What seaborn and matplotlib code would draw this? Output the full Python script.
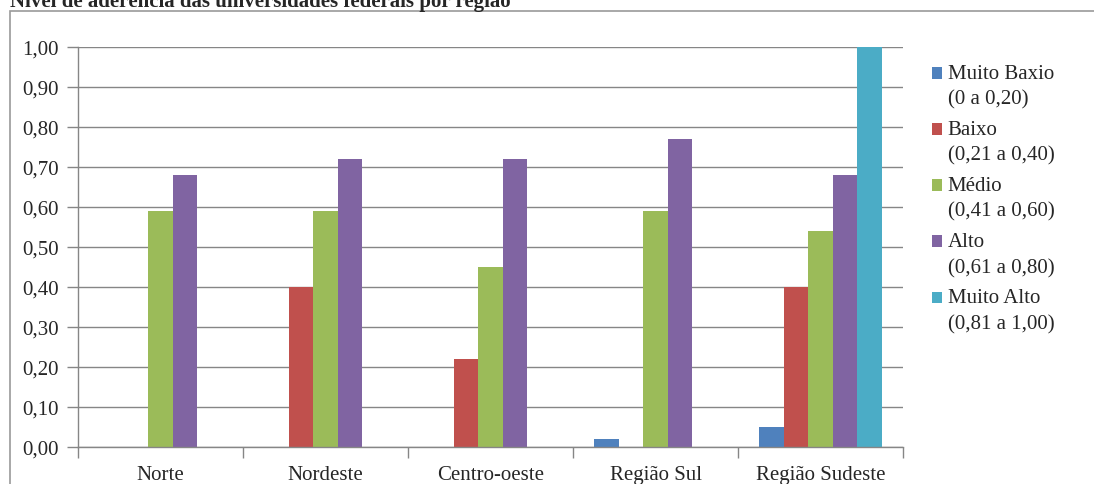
import matplotlib
matplotlib.use("Agg")
import matplotlib.pyplot as plt
from matplotlib.patches import Rectangle
from matplotlib.legend_handler import HandlerPatch
from matplotlib.ticker import FuncFormatter, FixedLocator
import pandas as pd
import seaborn as sns

regions = ["Norte", "Nordeste", "Centro-oeste", "Região Sul", "Região Sudeste"]
levels = [
    "Muito Baxio\n(0 a 0,20)",
    "Baixo\n(0,21 a 0,40)",
    "Médio\n(0,41 a 0,60)",
    "Alto\n(0,61 a 0,80)",
    "Muito Alto\n(0,81 a 1,00)",
]
muito_baixo = [0.00, 0.00, 0.00, 0.02, 0.05]
baixo = [0.00, 0.40, 0.22, 0.00, 0.40]
medio = [0.59, 0.59, 0.45, 0.59, 0.54]
alto = [0.68, 0.72, 0.72, 0.77, 0.68]
muito_alto = [0.00, 0.00, 0.00, 0.00, 1.00]
colors = ["#4F81BD", "#C0504D", "#9BBB59", "#8064A2", "#4BACC6"]

series = [muito_baixo, baixo, medio, alto, muito_alto]
rows = []
for level, values in zip(levels, series):
    for region, v in zip(regions, values):
        rows.append({"regiao": region, "nivel": level, "valor": v})
df = pd.DataFrame(rows)


class TopAlignedSquare(HandlerPatch):
    # put the legend square next to the first line of a two-line label
    def create_artists(self, legend, orig_handle, xdescent, ydescent, width, height,
                       fontsize, trans):
        p = Rectangle((-xdescent, -ydescent + 0.62 * fontsize), width, height)
        self.update_prop(p, orig_handle, legend)
        p.set_transform(trans)
        return [p]


sns.set_style("white")
plt.rcParams["font.family"] = ["Liberation Serif", "DejaVu Serif"]

fig = plt.figure(figsize=(10.94, 4.85), dpi=100)
ax = fig.add_axes([78 / 1094, 1 - 448 / 485, 825 / 1094, 400 / 485])

sns.barplot(
    data=df, x="regiao", y="valor", hue="nivel",
    order=regions, hue_order=levels, palette=colors,
    width=0.74, gap=0, saturation=1, linewidth=0, ax=ax, legend=True,
)

grid_color = "#868686"
ax.set_ylim(0, 1.0)
ax.set_xlim(-0.5, len(regions) - 0.5)
ax.set_yticks([i / 10 for i in range(11)])
ax.yaxis.set_major_formatter(FuncFormatter(lambda v, p: f"{v:.2f}".replace(".", ",")))
ax.yaxis.grid(True, color=grid_color, linewidth=1)
ax.set_axisbelow(True)
ax.set_xlabel("")
ax.set_ylabel("")
for side in ["top", "right"]:
    ax.spines[side].set_visible(False)
for side in ["left", "bottom"]:
    ax.spines[side].set_color(grid_color)
    ax.spines[side].set_linewidth(1)

ax.tick_params(axis="y", direction="out", length=8, color=grid_color, width=1,
               labelsize=15, pad=6, left=True)
ax.tick_params(axis="x", which="major", length=0, labelsize=15, pad=13)
ax.xaxis.set_minor_locator(FixedLocator([i - 0.5 for i in range(len(regions) + 1)]))
ax.tick_params(axis="x", which="minor", direction="out", length=8, color=grid_color, width=1,
               bottom=True)

handles, labels = ax.get_legend_handles_labels()
leg = ax.legend(
    handles, labels, loc="upper left", bbox_to_anchor=(932 / 1094, 1 - 65 / 485),
    bbox_transform=fig.transFigure, frameon=False, fontsize=15,
    handlelength=0.5, handleheight=0.5, handletextpad=0.25, labelspacing=0.55,
    borderaxespad=0, borderpad=0,
    handler_map={h: TopAlignedSquare() for h in handles},
)
for t in leg.get_texts():
    t.set_linespacing(1.45)

fig.text(10 / 1094, 1 - 7 / 485, "Nível de aderência das universidades federais por região",
         fontsize=15, fontweight="bold", ha="left", va="baseline")
fig.patches.append(Rectangle((10 / 1094, -0.1), 1.2, 1 - 12 / 485 + 0.1,
                             transform=fig.transFigure, fill=False,
                             edgecolor="#9a9a9a", linewidth=1.2, clip_on=False))

fig.savefig("out.png", dpi=100)
